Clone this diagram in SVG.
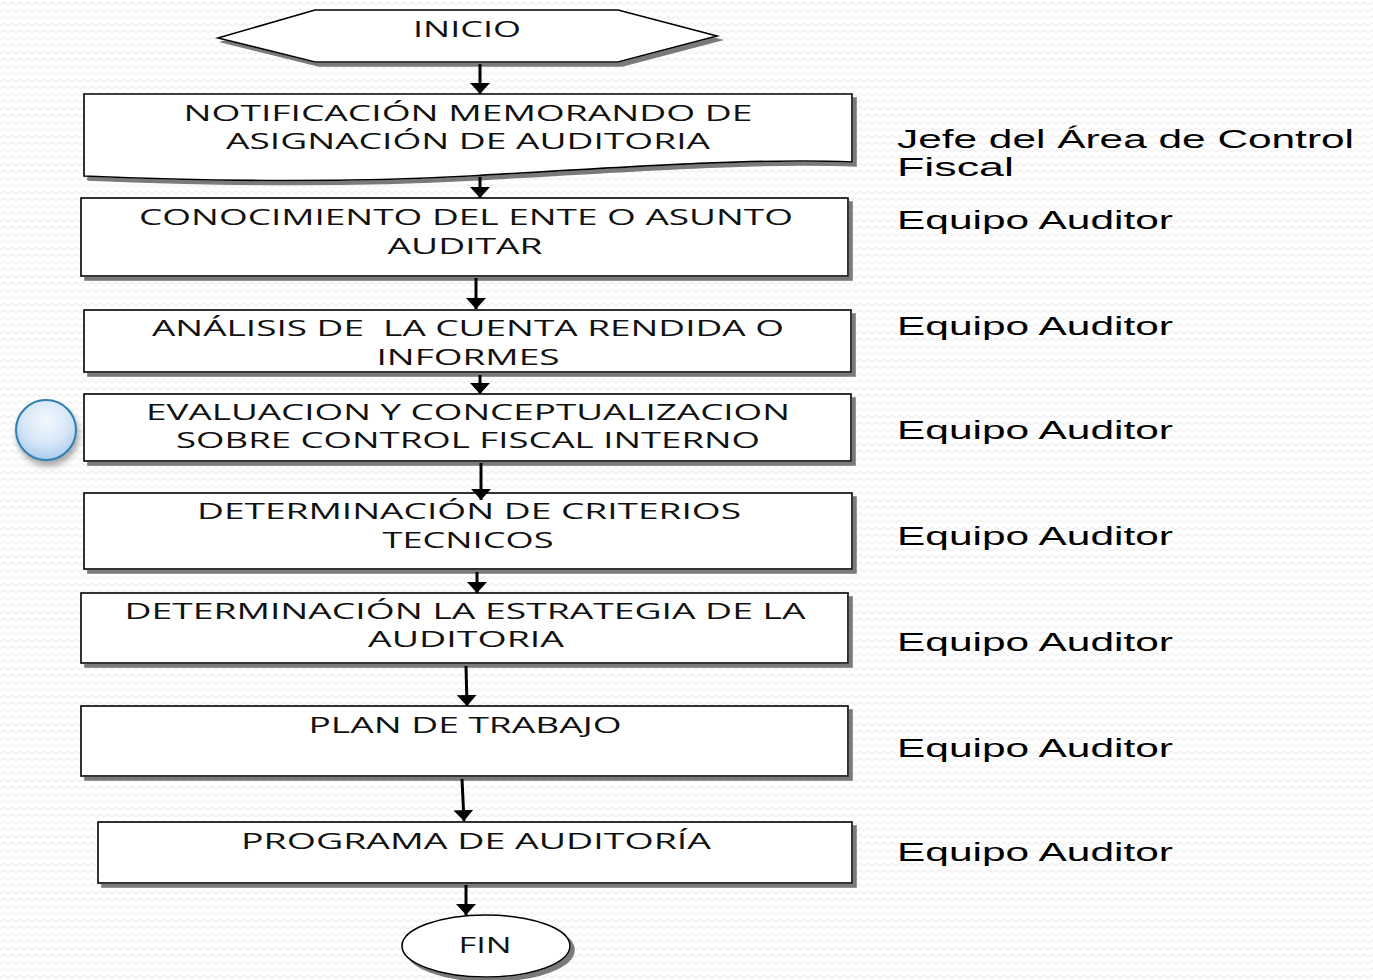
<svg xmlns="http://www.w3.org/2000/svg" width="1373" height="980" viewBox="0 0 1373 980">
  <defs>
    <pattern id="bgZigzag" width="8" height="7" patternUnits="userSpaceOnUse">
      <path d="M0,5 L4,2 L8,5" fill="none" stroke="#efefef" stroke-width="1.4"/>
    </pattern>
    <filter id="shadow" x="-5%" y="-10%" width="115%" height="130%">
      <feDropShadow dx="4" dy="4" stdDeviation="0.6" flood-color="#7a7a7a" flood-opacity="1"/>
    </filter>
    <filter id="softShadow" x="-30%" y="-30%" width="170%" height="170%">
      <feDropShadow dx="2" dy="5" stdDeviation="3" flood-color="#000" flood-opacity="0.35"/>
    </filter>
    <radialGradient id="bubble" cx="50%" cy="35%" r="65%">
      <stop offset="0" stop-color="#f4f8fd"/>
      <stop offset="0.6" stop-color="#d6e6f7"/>
      <stop offset="1" stop-color="#a9ccee"/>
    </radialGradient>
    <!-- filled triangular head, drawn along +x so orient="auto" turns it with the line -->
    <marker id="arrow" viewBox="0 0 11 20" refX="11" refY="10" markerWidth="11" markerHeight="20" markerUnits="userSpaceOnUse" orient="auto">
      <path d="M0,0 L11,10 L0,20 Z" fill="#000"/>
    </marker>
    <style>
      .box { fill: #fff; stroke: #000; stroke-width: 1.6; filter: url(#shadow); }
      .step { font-family: "Open Sans", "Liberation Sans", sans-serif; font-size: 22px; fill: #111; text-anchor: middle; }
      .role { font-family: "Liberation Sans", Arial, sans-serif; font-size: 25px; fill: #000; }
      .conn line { stroke: #000; stroke-width: 3; marker-end: url(#arrow); }
    </style>
  </defs>

  <rect width="1373" height="980" fill="#fff"/>
  <rect width="1373" height="980" fill="url(#bgZigzag)"/>

  <!-- start terminator -->
  <g id="inicio">
    <polygon class="box" points="218,38 315,10 618,10 717,36 618,62 315,62"/>
    <text class="step" x="467" y="37" textLength="108" lengthAdjust="spacingAndGlyphs">INICIO</text>
  </g>

  <!-- document step -->
  <g id="notificacion">
    <path class="box" d="M84,94 L852,94 L852,162 C760,158 640,166 470,176 C320,184 180,180 84,176 Z"/>
    <text class="step" x="468" y="121" textLength="569" lengthAdjust="spacingAndGlyphs">NOTIFICACIÓN MEMORANDO DE</text>
    <text class="step" x="468" y="149" textLength="484" lengthAdjust="spacingAndGlyphs">ASIGNACIÓN DE AUDITORIA</text>
  </g>

  <g id="conocimiento">
    <rect class="box" x="81" y="198" width="767" height="78"/>
    <text class="step" x="466" y="225" textLength="654" lengthAdjust="spacingAndGlyphs">CONOCIMIENTO DEL ENTE O ASUNTO</text>
    <text class="step" x="465" y="254" textLength="155" lengthAdjust="spacingAndGlyphs">AUDITAR</text>
  </g>

  <g id="analisis">
    <rect class="box" x="84" y="310" width="767" height="62"/>
    <text class="step" x="468" y="336" textLength="632" lengthAdjust="spacingAndGlyphs" xml:space="preserve">ANÁLISIS DE  LA CUENTA RENDIDA O</text>
    <text class="step" x="468" y="365" textLength="183" lengthAdjust="spacingAndGlyphs">INFORMES</text>
  </g>

  <g id="evaluacion">
    <rect class="box" x="84" y="394" width="767" height="67"/>
    <text class="step" x="468" y="420" textLength="644" lengthAdjust="spacingAndGlyphs">EVALUACION Y CONCEPTUALIZACION</text>
    <text class="step" x="468" y="448" textLength="584" lengthAdjust="spacingAndGlyphs">SOBRE CONTROL FISCAL INTERNO</text>
  </g>

  <g id="marcador">
    <circle cx="46" cy="430" r="30" fill="url(#bubble)" stroke="#2f7fab" stroke-width="2" filter="url(#softShadow)"/>
  </g>

  <g id="criterios">
    <rect class="box" x="84" y="493" width="768" height="76"/>
    <text class="step" x="469" y="519" textLength="544" lengthAdjust="spacingAndGlyphs">DETERMINACIÓN DE CRITERIOS</text>
    <text class="step" x="468" y="548" textLength="171" lengthAdjust="spacingAndGlyphs">TECNICOS</text>
  </g>

  <g id="estrategia">
    <rect class="box" x="81" y="593" width="767" height="70"/>
    <text class="step" x="465" y="619" textLength="681" lengthAdjust="spacingAndGlyphs">DETERMINACIÓN LA ESTRATEGIA DE LA</text>
    <text class="step" x="466" y="647" textLength="196" lengthAdjust="spacingAndGlyphs">AUDITORIA</text>
  </g>

  <g id="plan">
    <rect class="box" x="81" y="706" width="767" height="70"/>
    <text class="step" x="465" y="733" textLength="313" lengthAdjust="spacingAndGlyphs">PLAN DE TRABAJO</text>
  </g>

  <g id="programa">
    <rect class="box" x="98" y="822" width="754" height="61"/>
    <text class="step" x="476" y="849" textLength="470" lengthAdjust="spacingAndGlyphs">PROGRAMA DE AUDITORÍA</text>
  </g>

  <!-- end terminator -->
  <g id="fin">
    <ellipse class="box" cx="486" cy="946" rx="84" ry="31"/>
    <text class="step" x="485" y="953" textLength="53" lengthAdjust="spacingAndGlyphs">FIN</text>
  </g>

  <!-- connectors, drawn over the shapes so each head stays visible -->
  <g id="connectors" class="conn">
    <line x1="480" y1="64" x2="480" y2="94"/>
    <line x1="480" y1="177" x2="480" y2="198"/>
    <line x1="476" y1="278" x2="476" y2="309"/>
    <line x1="480" y1="375" x2="480" y2="394"/>
    <line x1="481" y1="463" x2="481" y2="500"/>
    <line x1="477" y1="572" x2="477" y2="593"/>
    <line x1="466" y1="666" x2="467" y2="706"/>
    <line x1="462" y1="779" x2="464" y2="821"/>
    <line x1="466" y1="885" x2="466" y2="915"/>
  </g>

  <!-- responsible roles -->
  <g id="responsables">
    <text class="role" x="897" y="148" textLength="457" lengthAdjust="spacingAndGlyphs">Jefe del Área de Control</text>
    <text class="role" x="897" y="176" textLength="117" lengthAdjust="spacingAndGlyphs">Fiscal</text>
    <text class="role" x="897" y="229" textLength="276" lengthAdjust="spacingAndGlyphs">Equipo Auditor</text>
    <text class="role" x="897" y="335" textLength="276" lengthAdjust="spacingAndGlyphs">Equipo Auditor</text>
    <text class="role" x="897" y="439" textLength="276" lengthAdjust="spacingAndGlyphs">Equipo Auditor</text>
    <text class="role" x="897" y="545" textLength="276" lengthAdjust="spacingAndGlyphs">Equipo Auditor</text>
    <text class="role" x="897" y="651" textLength="276" lengthAdjust="spacingAndGlyphs">Equipo Auditor</text>
    <text class="role" x="897" y="757" textLength="276" lengthAdjust="spacingAndGlyphs">Equipo Auditor</text>
    <text class="role" x="897" y="861" textLength="276" lengthAdjust="spacingAndGlyphs">Equipo Auditor</text>
  </g>
</svg>
